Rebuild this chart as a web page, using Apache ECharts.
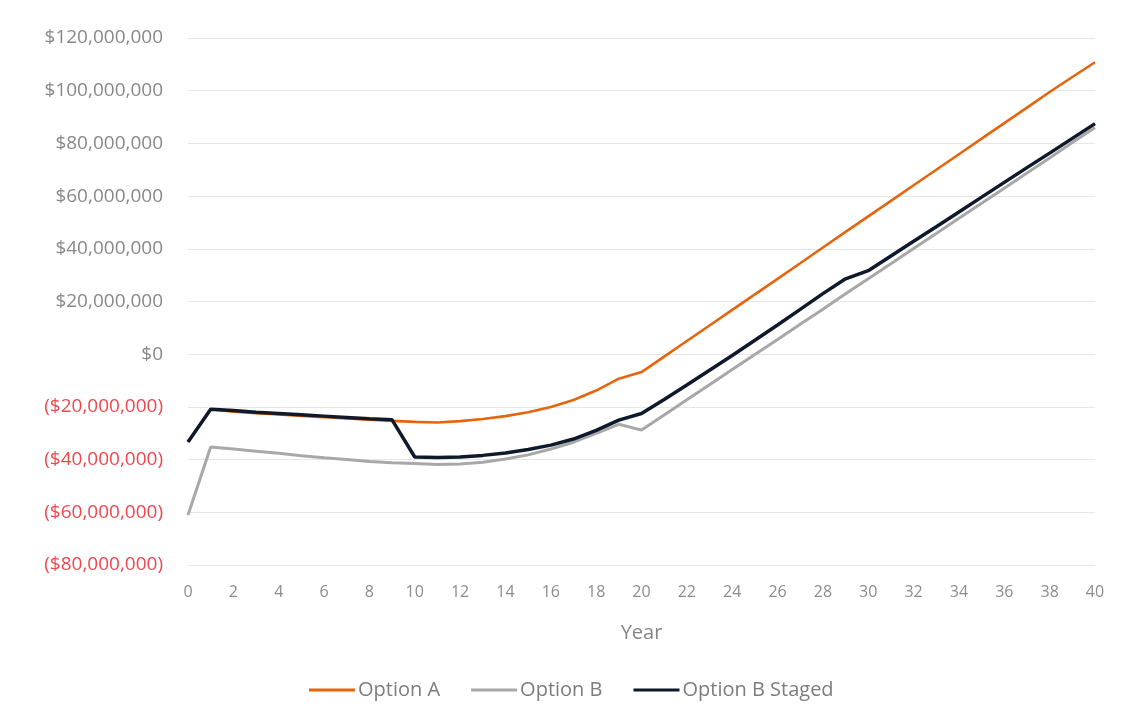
<!DOCTYPE html>
<html>
<head>
<meta charset="utf-8">
<script src="https://cdn.jsdelivr.net/npm/echarts@6/dist/echarts.min.js"></script>
<style>
html,body{margin:0;padding:0;background:#fff;}
#c{width:1126px;height:717px;}
</style>
</head>
<body>
<div id="c"></div>
<script>
const years = [0,1,2,3,4,5,6,7,8,9,10,11,12,13,14,15,16,17,18,19,20,21,22,23,24,25,26,27,28,29,30,31,32,33,34,35,36,37,38,39,40];
// values in $ millions
const optionA = [-33.3,-20.9,-21.8,-22.4,-22.9,-23.4,-23.9,-24.4,-24.9,-25.3,-25.7,-25.9,-25.4,-24.6,-23.5,-22.0,-20.0,-17.4,-13.8,-9.3,-6.8,-0.9,5.0,10.9,16.8,22.7,28.6,34.5,40.5,46.4,52.3,58.2,64.1,70.0,75.9,81.8,87.7,93.6,99.5,105.2,110.8];
const optionB = [-61.0,-35.2,-36.0,-36.8,-37.6,-38.5,-39.3,-40.0,-40.7,-41.2,-41.5,-41.9,-41.7,-41.0,-39.8,-38.2,-36.0,-33.4,-30.0,-26.6,-28.8,-23.1,-17.3,-11.6,-5.8,-0.1,5.6,11.4,17.1,22.9,28.6,34.3,40.1,45.8,51.6,57.3,63.0,68.8,74.5,80.3,86.0];
const optionBStaged = [-33.3,-20.9,-21.4,-22.0,-22.5,-23.0,-23.5,-24.0,-24.5,-24.9,-39.0,-39.2,-39.0,-38.4,-37.5,-36.2,-34.5,-32.2,-28.9,-25.0,-22.5,-17.2,-11.7,-6.1,-0.5,5.3,11.1,17.0,23.0,28.6,31.7,37.3,42.9,48.4,54.0,59.6,65.2,70.8,76.3,81.9,87.5];
const seriesNames = ['Option A','Option B','Option B Staged'];
const seriesColors = ['#e5650f','#a8a8a8','#0e1a2b'];
const yMin = -80000000, yMax = 120000000, yStep = 20000000;
const xMin = 0, xMax = 40, xStep = 2;

function money(v){
  const s = Math.abs(v).toLocaleString('en-US');
  if (v === 0) return '$0';
  return v < 0 ? '($' + s + ')' : '$' + s;
}
function pairs(arr){ return years.map((y,i)=>[y, Math.round(arr[i]*1e6)]); }

const chart = echarts.init(document.getElementById('c'), null, {renderer:'canvas'});
const font = 'Open Sans';
chart.setOption({
  animation:false,
  backgroundColor:'#ffffff',
  grid:{left:188,right:31,top:38,bottom:152,containLabel:false},
  xAxis:{
    type:'value', min:xMin, max:xMax, interval:xStep,
    name:'Year', nameLocation:'middle', nameGap:58,
    nameTextStyle:{color:'#858585',fontSize:20,fontFamily:font},
    axisLine:{show:false}, axisTick:{show:false}, splitLine:{show:false},
    axisLabel:{color:'#8c8c8c',fontSize:16,fontFamily:font,margin:19}
  },
  yAxis:{
    type:'value', min:yMin, max:yMax, interval:yStep,
    axisLine:{show:false}, axisTick:{show:false},
    splitLine:{show:true,lineStyle:{color:'#e6e6e6',width:1}},
    axisLabel:{
      fontSize:19, fontFamily:font, margin:25,
      formatter: v => money(v),
      color: v => (Number(v) < 0 ? '#f0474f' : '#888888')
    }
  },
  legend:{
    left:304, top:675, icon:'rect', itemWidth:46, itemHeight:3, itemGap:31,
    textStyle:{color:'#7d7d7d',fontSize:20,fontFamily:font,padding:[0,0,0,-2]},
    data:seriesNames
  },
  series:[
    {name:seriesNames[0],type:'line',data:pairs(optionA),showSymbol:false,symbol:'none',
     lineStyle:{color:seriesColors[0],width:2.6},itemStyle:{color:seriesColors[0]},z:2},
    {name:seriesNames[1],type:'line',data:pairs(optionB),showSymbol:false,symbol:'none',
     lineStyle:{color:seriesColors[1],width:3},itemStyle:{color:seriesColors[1]},z:3},
    {name:seriesNames[2],type:'line',data:pairs(optionBStaged),showSymbol:false,symbol:'none',
     lineStyle:{color:seriesColors[2],width:3.5},itemStyle:{color:seriesColors[2]},z:4}
  ]
});
</script>
</body>
</html>
